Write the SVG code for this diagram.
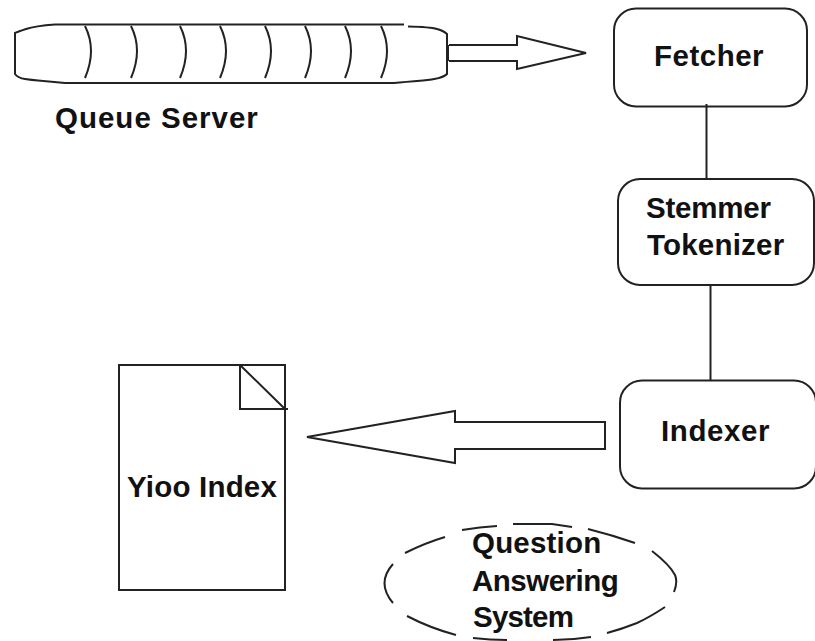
<svg xmlns="http://www.w3.org/2000/svg" width="815" height="641" viewBox="0 0 815 641">
<style>
.s{fill:none;stroke:#222;stroke-width:2;stroke-linejoin:miter}
.t{font-family:"Liberation Sans",Arial,sans-serif;font-weight:bold;font-size:29.5px;letter-spacing:.2px;fill:#111}
</style>
<rect width="815" height="641" fill="#fff"/>
<g id="connectors">
<path class="s" d="M449 45H517V36L586 53L517 69V61H449" />
<path class="s" stroke-width="3" d="M448 45V61M447.500 45V61"/>
<path class="s" d="M706.500 104V178M710.500 285V380"/>
<path class="s" d="M605 422H455V411L307 437L455 463V449H605Z"/>
</g>
<g id="queue-server">
<path class="s" d="M55 24.500H404M65 83H394"/>
<path class="s" d="M55 24.500Q35 26 26 29T15 33V74Q18 78 25 79T38 80.500T65 83"/>
<path class="s" d="M408 26.500Q430 27 437 29T447 34V74Q442 79 423 80.500T394 83"/>
<path class="s" d="M85 26Q97 50 85 78M131 26Q143 50 131 78M180 26Q192 50 180 78M220 26Q232 50 220 78M265 26Q277 50 265 78M305 26Q317 50 305 78M345 26Q357 50 345 78M381 26Q393 50 381 78"/>
<text class="t" x="55" y="128" style="letter-spacing:1px">Queue Server</text>
</g>
<g id="fetcher">
<rect class="s" x="614" y="8.500" width="193" height="98" rx="22"/>
<text class="t" x="654" y="66" style="letter-spacing:.5px">Fetcher</text>
</g>
<g id="stemmer">
<rect class="s" x="618" y="179" width="196" height="106" rx="22"/>
<text class="t" x="646" y="218" style="letter-spacing:-.2px">Stemmer</text>
<text class="t" x="647" y="255">Tokenizer</text>
</g>
<g id="indexer">
<rect class="s" x="620" y="380.500" width="196" height="108" rx="22"/>
<text class="t" x="661" y="441" style="letter-spacing:.6px">Indexer</text>
</g>
<g id="yioo-index">
<path class="s" d="M119 365H285V590H119Z"/>
<path class="s" d="M240 365V409H288M240 365L285 409"/>
<text class="t" x="127" y="497">Yioo Index</text>
</g>
<g id="question-answering">
<path class="s" d="M405 553Q425 543 445 537M462 530Q480 527 497 526M513 524H552L572 527M588 529Q612 535 635 543M652 551Q670 565 675 575Q678 582 674 592M665 607Q650 617 637 623Q622 629 607 633M591 637Q572 640 553 640M507 640Q490 640 473 638M456 635Q430 628 407 616M393 603Q376 583 393 564"/>
<text class="t" x="472" y="553">Question</text>
<text class="t" x="472" y="591" style="letter-spacing:-.5px">Answering</text>
<text class="t" x="473" y="627" style="letter-spacing:-.8px">System</text>
</g>
</svg>
